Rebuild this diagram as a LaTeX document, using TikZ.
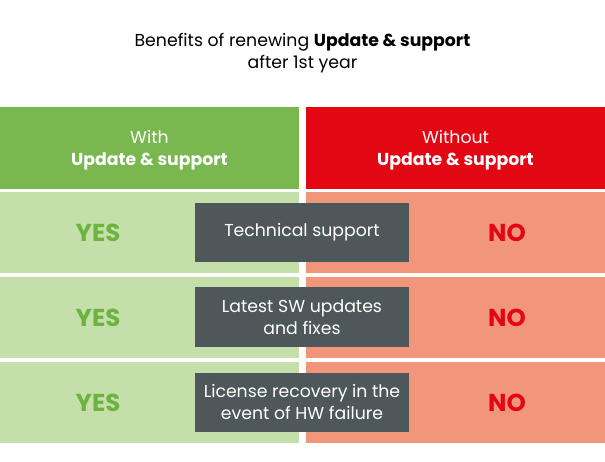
\documentclass[tikz,border=0pt]{standalone}
\usepackage{fontspec}
\setmainfont{Poppins}
\definecolor{hgreen}{HTML}{78B84E}
\definecolor{lgreen}{HTML}{C5DFAA}
\definecolor{hred}{HTML}{E30613}
\definecolor{lred}{HTML}{F1967A}
\definecolor{dgray}{HTML}{4E5759}
\definecolor{ytext}{HTML}{6DB33F}
\definecolor{ntext}{HTML}{E30613}
\tikzset{
 cell/.style={inner sep=0pt,outer sep=0pt},
 hdr/.style={text=white,font=\fontsize{17.3}{22}\selectfont,align=center},
 yn/.style={font=\bfseries\fontsize{24.5}{26}\selectfont},
 feat/.style={fill=dgray,text=white,font=\fontsize{17.3}{22}\selectfont,align=center,minimum width=214pt,minimum height=59pt,inner sep=0pt}
}
\begin{document}
\begin{tikzpicture}[x=1pt,y=-1pt]
\useasboundingbox (0,0) rectangle (605,462);
\node[font=\fontsize{17.3}{22}\selectfont,align=center] (title) at (302.5,53) {Benefits of renewing \textbf{Update \& support}\\after 1st year};
\fill[hgreen] (0,107) rectangle (299,189);
\fill[hred] (306,107) rectangle (605,189);
\node[hdr] (hw) at (149.5,150) {With\\\textbf{Update \& support}};
\node[hdr] (hwo) at (455.5,150) {Without\\\textbf{Update \& support}};
\foreach \t/\b/\n in {192/273/1,277/358/2,362/443/3}{
  \fill[lgreen] (0,\t) rectangle (299,\b);
  \fill[lred] (306,\t) rectangle (605,\b);
  \node[yn,text=ytext] (yes\n) at (98,{(\t+\b)/2}) {YES};
  \node[yn,text=ntext] (no\n) at (507,{(\t+\b)/2}) {NO};
}
\node[feat] (f1) at (302,232.5) {Technical support};
\node[feat] (f2) at (302,317) {Latest SW updates\\and fixes};
\node[feat] (f3) at (302,402) {License recovery in the\\event of HW failure};
\end{tikzpicture}
\end{document}
